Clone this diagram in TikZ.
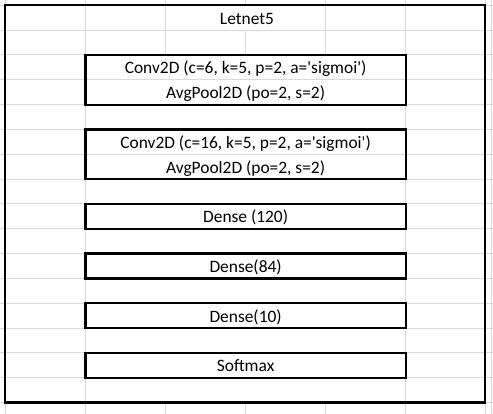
\documentclass[tikz,border=0pt]{standalone}
\usepackage{fontspec}
\setmainfont{Carlito}
\definecolor{gridgray}{HTML}{DADADA}
\newcommand{\sq}{\textquotesingle}
\begin{document}
\begin{tikzpicture}[x=1pt,y=-1pt,
  gridline/.style={draw=gridgray,line width=1pt},
  framebox/.style={draw=black,line width=2.2pt,inner sep=0pt,outer sep=0pt},
  layerbox/.style={framebox,minimum width=320.2pt},
  lbl/.style={anchor=base,inner sep=0pt,font=\fontsize{17.4}{20}\selectfont}]
\useasboundingbox (0,0) rectangle (493,414);
% spreadsheet grid
\foreach \k in {0,...,16}{
  \draw[gridline] (0,{5.3+24.83*\k}) -- (493,{5.3+24.83*\k});
}
\foreach \x in {5.3,85.5,405.7,485.5,491}{
  \draw[gridline] (\x,0) -- (\x,414);
}
\foreach \x in {165.5,325.7}{
  \draw[gridline] (\x,0) -- (\x,54.96);
  \draw[gridline] (\x,402.58) -- (\x,414);
}
\draw[gridline] (245.7,0) -- (245.7,5.3);
\draw[gridline] (245.7,30.13) -- (245.7,54.96);
\draw[gridline] (245.7,402.58) -- (245.7,414);
% outer frame
\node[framebox,minimum width=479.7pt,minimum height=397.28pt] (outer) at (245.15,203.94) {};
% layer boxes
\node[layerbox,minimum height=49.66pt] (b1) at (245.6,79.79) {};
\node[layerbox,minimum height=49.66pt] (b2) at (245.6,154.28) {};
\node[layerbox,minimum height=24.83pt] (b3) at (245.6,216.355) {};
\node[layerbox,minimum height=24.83pt] (b4) at (245.6,266.015) {};
\node[layerbox,minimum height=24.83pt] (b5) at (245.6,315.675) {};
\node[layerbox,minimum height=24.83pt] (b6) at (245.6,365.335) {};
% texts
\node[lbl] (title) at (247,24.5) {Letnet5};
\node[lbl] (t1a) at (245.6,73.99) {Conv2D (c=6, k=5, p=2, a=\sq sigmoi\sq)};
\node[lbl] (t1b) at (245.6,98.82) {AvgPool2D (po=2, s=2)};
\node[lbl] (t2a) at (245.6,148.48) {Conv2D (c=16, k=5, p=2, a=\sq sigmoi\sq)};
\node[lbl] (t2b) at (245.6,173.31) {AvgPool2D (po=2, s=2)};
\node[lbl] (t3) at (245.6,222.97) {Dense (120)};
\node[lbl] (t4) at (245.6,272.63) {Dense(84)};
\node[lbl] (t5) at (245.6,322.29) {Dense(10)};
\node[lbl] (t6) at (245.6,371.95) {Softmax};
\end{tikzpicture}
\end{document}
